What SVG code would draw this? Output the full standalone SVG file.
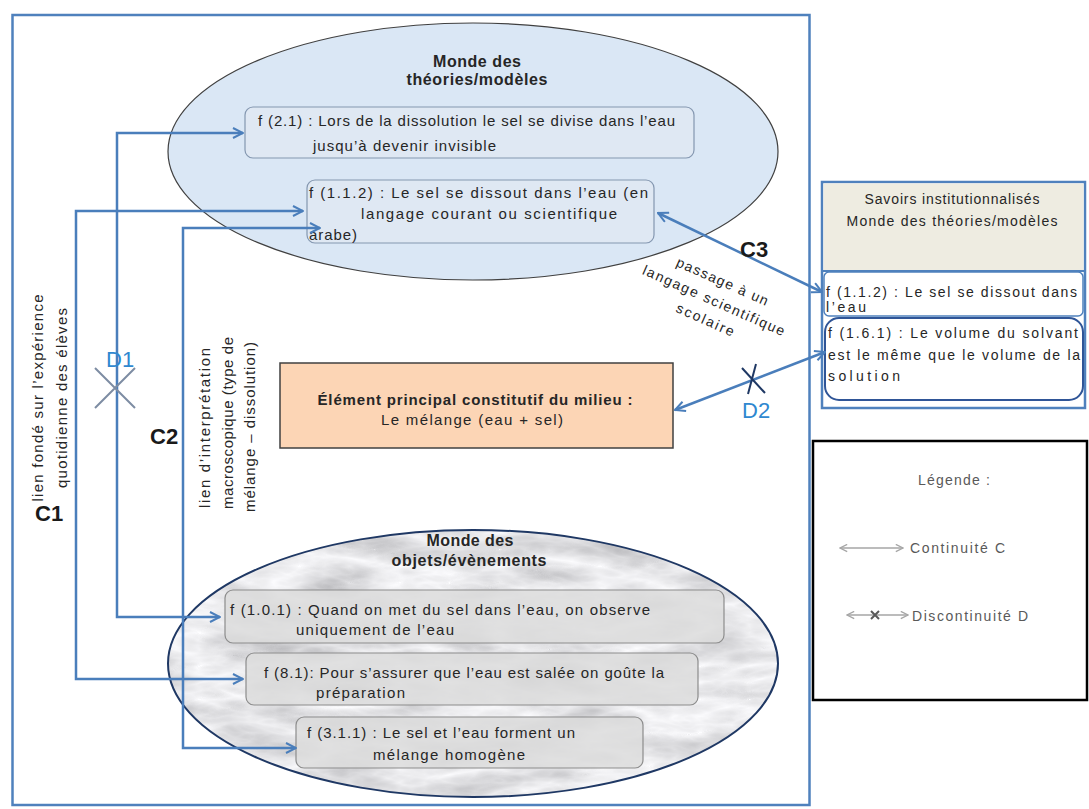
<svg xmlns="http://www.w3.org/2000/svg" width="1089" height="809" viewBox="0 0 1089 809">
<style>
text{font-family:"Liberation Sans",Arial,sans-serif;fill:#262626}
.t{font-size:15px}
.s{font-size:14px}
.b{font-weight:bold}
.big{font-size:22px;font-weight:bold;fill:#1a1a1a}
.dl{font-size:22px;fill:#2f88d0}
.g{fill:#595959;font-size:14px}
.conn{fill:none;stroke:#4a7ebb;stroke-width:2.5}
.cross{stroke:#7d8ca3;stroke-width:2}
.tb{fill:#dfe8f3;stroke:#8497b0;stroke-width:1.2}
.ob{fill:#dcdcdc;fill-opacity:0.85;stroke:#8c8c8c;stroke-width:1.2}
</style>
<defs>
<marker id="ah" viewBox="0 0 12 12" refX="11" refY="6" markerWidth="12" markerHeight="12" markerUnits="userSpaceOnUse" orient="auto-start-reverse">
<path d="M1,1 L11,6 L1,11" fill="none" stroke="#4a7ebb" stroke-width="2"/>
</marker>
<marker id="gh" viewBox="0 0 10 10" refX="9" refY="5" markerWidth="9" markerHeight="9" markerUnits="userSpaceOnUse" orient="auto-start-reverse">
<path d="M1,1 L9,5 L1,9" fill="none" stroke="#a6a6a6" stroke-width="1.5"/>
</marker>
<filter id="marble" x="0" y="0" width="100%" height="100%">
<feTurbulence type="turbulence" baseFrequency="0.01 0.03" numOctaves="4" seed="7" result="n"/>
<feColorMatrix in="n" type="matrix" values="-0.6 0 0 0 0.98  -0.6 0 0 0 0.98  -0.6 0 0 0 1.0  0 0 0 0 1" result="m"/>
<feComposite in="m" in2="SourceGraphic" operator="in"/>
</filter>
</defs>

<rect id="frame" x="12.5" y="15" width="797" height="790" fill="#ffffff" stroke="#4f81bd" stroke-width="2.5"/>

<g id="monde-theories">
<ellipse cx="473" cy="151.5" rx="305" ry="128.5" fill="#dae7f5" stroke="#404040" stroke-width="1.2"/>
<text class="b" x="477" y="67" text-anchor="middle" font-size="16" textLength="88">Monde des</text>
<text class="b" x="477" y="85" text-anchor="middle" font-size="16" textLength="141">théories/modèles</text>
</g>

<g id="f21">
<rect class="tb" x="245" y="107" width="449" height="51" rx="8"/>
<text class="t" x="258" y="126" textLength="417">f (2.1) : Lors de la dissolution le sel se divise dans l’eau</text>
<text class="t" x="313" y="151" textLength="183">jusqu’à devenir invisible</text>
</g>

<g id="f112">
<rect class="tb" x="307" y="180" width="347" height="63" rx="8"/>
<text class="t" x="309" y="198" textLength="339">f (1.1.2) : Le sel se dissout dans l’eau (en</text>
<text class="t" x="361" y="219" textLength="256">langage courant ou scientifique</text>
<text class="t" x="309" y="240" textLength="48">arabe)</text>
</g>

<g id="element-principal">
<rect x="280" y="363" width="393" height="85" fill="#fcd5b5" stroke="#404040" stroke-width="1.5"/>
<text class="b" x="475" y="405" text-anchor="middle" font-size="15" textLength="315">Élément principal constitutif du milieu :</text>
<text class="t" x="472" y="425" text-anchor="middle" textLength="182">Le mélange (eau + sel)</text>
</g>

<g id="monde-objets">
<ellipse cx="473" cy="663.5" rx="305" ry="133.5" fill="#d9d9d9" filter="url(#marble)"/>
<ellipse cx="473" cy="663.5" rx="305" ry="133.5" fill="none" stroke="#1f3864" stroke-width="2"/>
<text class="b" x="470" y="546" text-anchor="middle" font-size="16" textLength="87">Monde des</text>
<text class="b" x="469" y="566" text-anchor="middle" font-size="16" textLength="155">objets/évènements</text>
</g>

<g id="f101">
<rect class="ob" x="225" y="590" width="499" height="53" rx="8"/>
<text class="t" x="230" y="615" textLength="420">f (1.0.1) : Quand on met du sel dans l’eau, on observe</text>
<text class="t" x="296" y="635" textLength="158">uniquement  de l’eau</text>
</g>

<g id="f81">
<rect class="ob" x="246" y="653" width="452" height="52" rx="8"/>
<text class="t" x="264" y="678" textLength="400">f (8.1): Pour s’assurer que l’eau est salée on goûte la</text>
<text class="t" x="316" y="698" textLength="89">préparation</text>
</g>

<g id="f311">
<rect class="ob" x="296" y="717" width="347" height="51" rx="8"/>
<text class="t" x="307" y="738" textLength="268">f (3.1.1) : Le sel et l’eau forment  un</text>
<text class="t" x="449" y="760" text-anchor="middle" textLength="152">mélange homogène</text>
</g>

<g id="savoirs">
<rect x="822" y="182" width="263" height="226" fill="#ffffff" stroke="#4f81bd" stroke-width="2.5"/>
<rect x="823.5" y="183.5" width="260" height="87" fill="#eeece1"/>
<line x1="822" y1="271" x2="1085" y2="271" stroke="#4f81bd" stroke-width="2"/>
<text class="s" x="952" y="204" text-anchor="middle" textLength="175">Savoirs institutionnalisés</text>
<text class="s" x="952" y="226" text-anchor="middle" textLength="211">Monde des théories/modèles</text>
<rect x="824" y="272" width="259" height="44" rx="5" fill="#ffffff" stroke="#4f81bd" stroke-width="1.5"/>
<text class="s" x="826" y="297" textLength="251">f (1.1.2) : Le sel se dissout dans</text>
<text class="s" x="826" y="312" textLength="40">l’eau</text>
</g>

<g id="f161">
<rect x="825" y="318" width="258" height="82" rx="14" fill="#ffffff" stroke="#2f5597" stroke-width="2"/>
<text class="s" x="828" y="338" textLength="250">f (1.6.1) : Le volume du solvant</text>
<text class="s" x="828" y="360" textLength="252">est le même que le volume de la</text>
<text class="s" x="828" y="381" textLength="72">solution</text>
</g>

<g id="legende">
<rect x="813" y="441" width="274" height="259" fill="#ffffff" stroke="#000000" stroke-width="2.5"/>
<text class="g" x="954" y="485" text-anchor="middle" textLength="72">Légende :</text>
<line x1="840" y1="548" x2="903" y2="548" stroke="#a6a6a6" stroke-width="1.5" marker-start="url(#gh)" marker-end="url(#gh)"/>
<text class="g" x="910" y="553" textLength="95">Continuité C</text>
<line x1="847" y1="615" x2="908" y2="615" stroke="#a6a6a6" stroke-width="1.5" marker-start="url(#gh)" marker-end="url(#gh)"/>
<path d="M871,611 L879,619 M879,611 L871,619" stroke="#595959" stroke-width="2"/>
<text class="g" x="912" y="621" textLength="116">Discontinuité D</text>
</g>

<g id="connectors">
<path class="conn" d="M243,679 L76,679 L76,211 L303,211" marker-start="url(#ah)" marker-end="url(#ah)"/>
<path class="conn" d="M220,617 L117,617 L117,133 L243,133" marker-start="url(#ah)" marker-end="url(#ah)"/>
<path class="conn" d="M296,748 L183,748 L183,228 L320,228" marker-start="url(#ah)" marker-end="url(#ah)"/>
<path class="conn" d="M658,213 L822,292" marker-start="url(#ah)" marker-end="url(#ah)"/>
<path class="conn" d="M675,410 L825,352" marker-start="url(#ah)" marker-end="url(#ah)"/>
<path class="cross" d="M95,368 L135,408 M135,368 L95,408"/>
<path d="M742,368 L765,393 M756,364 L748,394" stroke="#1f3864" stroke-width="2"/>
</g>

<g id="labels">
<text class="big" x="35" y="521">C1</text>
<text class="big" x="150" y="444">C2</text>
<text class="big" x="740" y="257">C3</text>
<text class="dl" x="106" y="367">D1</text>
<text class="dl" x="742" y="418" fill="#2e7cc4">D2</text>
<text class="t" transform="translate(43,398) rotate(-90)" text-anchor="middle" textLength="207">lien fondé sur l’expérience</text>
<text class="t" transform="translate(67,398) rotate(-90)" text-anchor="middle" textLength="180">quotidienne des élèves</text>
<text class="t" transform="translate(210,428) rotate(-90)" text-anchor="middle" textLength="160">lien d’interprétation</text>
<text class="t" transform="translate(233,423) rotate(-90)" text-anchor="middle" textLength="172">macroscopique (type de</text>
<text class="t" transform="translate(255,427) rotate(-90)" text-anchor="middle" textLength="170">mélange – dissolution)</text>
<g transform="translate(713,300) rotate(24)">
<text class="s" x="1" y="-16" text-anchor="middle" textLength="99">passage à un</text>
<text class="s" x="1" y="5" text-anchor="middle" textLength="154">langage scientifique</text>
<text class="s" x="1" y="26" text-anchor="middle" textLength="62">scolaire</text>
</g>
</g>
</svg>
